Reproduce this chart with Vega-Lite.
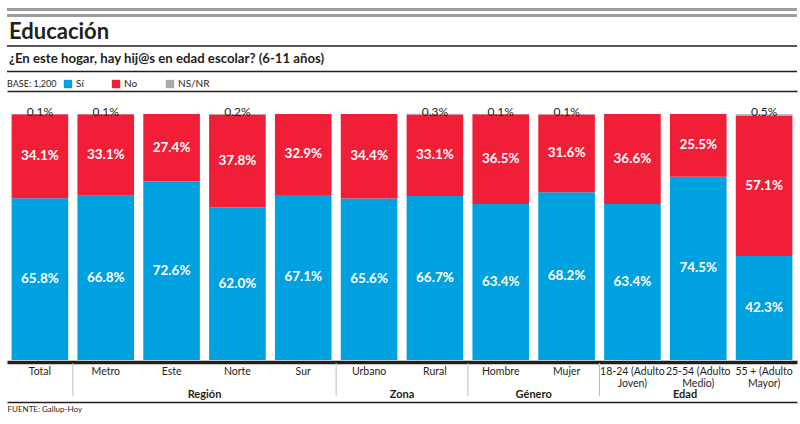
{
  "$schema": "https://vega.github.io/schema/vega-lite/v6.json",
  "padding": {"top": 0, "left": 5, "right": 5, "bottom": 0},
  "background": "white",
  "config": {"font": "Lato", "view": {"stroke": null}},
  "spacing": 0,
  "datasets": {
    "survey": [
      {"cat": "Total", "resp": "Sí", "v": 0.658}, {"cat": "Total", "resp": "No", "v": 0.341}, {"cat": "Total", "resp": "NS/NR", "v": 0.001},
      {"cat": "Metro", "resp": "Sí", "v": 0.668}, {"cat": "Metro", "resp": "No", "v": 0.331}, {"cat": "Metro", "resp": "NS/NR", "v": 0.001},
      {"cat": "Este", "resp": "Sí", "v": 0.726}, {"cat": "Este", "resp": "No", "v": 0.274}, {"cat": "Este", "resp": "NS/NR", "v": 0},
      {"cat": "Norte", "resp": "Sí", "v": 0.620}, {"cat": "Norte", "resp": "No", "v": 0.378}, {"cat": "Norte", "resp": "NS/NR", "v": 0.002},
      {"cat": "Sur", "resp": "Sí", "v": 0.671}, {"cat": "Sur", "resp": "No", "v": 0.329}, {"cat": "Sur", "resp": "NS/NR", "v": 0},
      {"cat": "Urbano", "resp": "Sí", "v": 0.656}, {"cat": "Urbano", "resp": "No", "v": 0.344}, {"cat": "Urbano", "resp": "NS/NR", "v": 0},
      {"cat": "Rural", "resp": "Sí", "v": 0.667}, {"cat": "Rural", "resp": "No", "v": 0.331}, {"cat": "Rural", "resp": "NS/NR", "v": 0.003},
      {"cat": "Hombre", "resp": "Sí", "v": 0.634}, {"cat": "Hombre", "resp": "No", "v": 0.365}, {"cat": "Hombre", "resp": "NS/NR", "v": 0.001},
      {"cat": "Mujer", "resp": "Sí", "v": 0.682}, {"cat": "Mujer", "resp": "No", "v": 0.316}, {"cat": "Mujer", "resp": "NS/NR", "v": 0.001},
      {"cat": "18-24 (Adulto\nJoven)", "resp": "Sí", "v": 0.634}, {"cat": "18-24 (Adulto\nJoven)", "resp": "No", "v": 0.366}, {"cat": "18-24 (Adulto\nJoven)", "resp": "NS/NR", "v": 0},
      {"cat": "25-54 (Adulto\nMedio)", "resp": "Sí", "v": 0.745}, {"cat": "25-54 (Adulto\nMedio)", "resp": "No", "v": 0.255}, {"cat": "25-54 (Adulto\nMedio)", "resp": "NS/NR", "v": 0},
      {"cat": "55 + (Adulto\nMayor)", "resp": "Sí", "v": 0.423}, {"cat": "55 + (Adulto\nMayor)", "resp": "No", "v": 0.571}, {"cat": "55 + (Adulto\nMayor)", "resp": "NS/NR", "v": 0.005}
    ],
    "cats": [
      {"cat": "Total"}, {"cat": "Metro"}, {"cat": "Este"}, {"cat": "Norte"}, {"cat": "Sur"}, {"cat": "Urbano"}, {"cat": "Rural"}, {"cat": "Hombre"}, {"cat": "Mujer"},
      {"cat": "18-24 (Adulto\nJoven)"}, {"cat": "25-54 (Adulto\nMedio)"}, {"cat": "55 + (Adulto\nMayor)"}
    ],
    "groups": [
      {"group": "Región", "first": "Metro", "mid": "Norte"},
      {"group": "Zona", "first": "Urbano", "mid": "Rural"},
      {"group": "Género", "first": "Hombre", "mid": "Mujer"},
      {"group": "Edad", "first": "18-24 (Adulto\nJoven)", "mid": "25-54 (Adulto\nMedio)"}
    ]
  },
  "resolve": {
    "scale": {"x": "independent", "y": "independent", "color": "independent"},
    "legend": {"color": "independent"}
  },
  "vconcat": [
    {
      "width": 790,
      "height": 79,
      "data": {"values": [{}]},
      "layer": [
        {"mark": {"type": "rule", "color": "#9D9D9F", "strokeWidth": 3},
         "encoding": {"y": {"datum": 9.5, "type": "quantitative", "scale": {"domain": [0, 79], "reverse": true, "nice": false, "zero": false}, "axis": null}}},
        {"mark": {"type": "rule", "color": "#9D9D9F", "strokeWidth": 3},
         "encoding": {"y": {"datum": 15.5, "type": "quantitative"}}},
        {"mark": {"type": "rule", "color": "#231F20", "strokeWidth": 1.5},
         "encoding": {"y": {"datum": 46, "type": "quantitative"}}},
        {"mark": {"type": "rule", "color": "#231F20", "strokeWidth": 1.5},
         "encoding": {"y": {"datum": 71.5, "type": "quantitative"}}},
        {"mark": {"type": "text", "align": "left", "baseline": "alphabetic", "fontSize": 22, "fontWeight": "bold", "color": "#231F20", "text": "Educación"},
         "encoding": {"x": {"datum": 2, "type": "quantitative", "scale": {"domain": [0, 790], "nice": false}, "axis": null}, "y": {"datum": 39, "type": "quantitative"}}},
        {"mark": {"type": "text", "align": "left", "baseline": "alphabetic", "fontSize": 13.2, "fontWeight": "bold", "color": "#231F20", "text": "¿En este hogar, hay hij@s en edad escolar? (6-11 años)"},
         "encoding": {"x": {"datum": 2, "type": "quantitative"}, "y": {"datum": 63, "type": "quantitative"}}}
      ]
    },
    {
      "width": 790,
      "height": 246,
      "data": {"name": "survey"},
      "resolve": {"axis": {"x": "independent"}},
      "layer": [
        {
          "mark": {"type": "bar"},
          "encoding": {
            "x": {"field": "cat", "type": "nominal", "sort": null,
                  "scale": {"paddingInner": 0.14, "paddingOuter": 0.07},
                  "axis": {"orient": "bottom", "labels": false, "ticks": false, "title": null, "domainColor": "#231F20", "domainWidth": 3.5, "offset": 2}},
            "y": {"field": "v", "type": "quantitative", "stack": "zero", "scale": {"domain": [0, 1]}, "axis": null},
            "order": {"field": "resp", "sort": "descending"},
            "color": {"field": "resp", "type": "nominal",
                      "scale": {"domain": ["Sí", "No", "NS/NR"], "range": ["#00A1E0", "#F11E37", "#A7A9AC"]},
                      "legend": {"orient": "top", "direction": "horizontal", "title": "BASE: 1,200", "titleOrient": "left",
                                 "titleFontSize": 9, "titleFontWeight": "normal", "titleColor": "#231F20", "titlePadding": 6,
                                 "labelFontSize": 10, "labelColor": "#231F20", "symbolType": "square", "symbolSize": 70,
                                 "symbolStrokeWidth": 0, "columnPadding": 27, "labelOffset": 3, "offset": 2, "padding": 0}}
          }
        },
        {
          "transform": [{"filter": "datum.resp != 'NS/NR'"}],
          "mark": {"type": "text", "fontWeight": "bold", "fontSize": 13.5, "color": "white", "baseline": "middle"},
          "encoding": {
            "x": {"field": "cat", "type": "nominal", "sort": null,
                  "axis": {"orient": "top", "labels": false, "ticks": false, "title": null, "domainColor": "#231F20", "domainWidth": 1.5, "offset": 23}},
            "y": {"field": "v", "type": "quantitative", "stack": "zero", "bandPosition": 0.5},
            "detail": {"field": "resp"},
            "order": {"field": "resp", "sort": "descending"},
            "text": {"field": "v", "type": "quantitative", "format": ".1%"}
          }
        },
        {
          "transform": [{"filter": "datum.resp == 'NS/NR' && datum.v > 0"}],
          "mark": {"type": "text", "fontSize": 12, "color": "#231F20", "baseline": "middle", "dy": -2},
          "encoding": {
            "x": {"field": "cat", "type": "nominal", "sort": null, "axis": null},
            "y": {"datum": 1, "type": "quantitative"},
            "text": {"field": "v", "type": "quantitative", "format": ".1%"}
          }
        }
      ]
    },
    {
      "width": 790,
      "height": 40,
      "layer": [
        {
          "data": {"name": "cats"},
          "mark": {"type": "text", "baseline": "top", "fontSize": 10.5, "color": "#231F20", "lineBreak": "\n", "lineHeight": 11.5},
          "encoding": {
            "x": {"field": "cat", "type": "nominal", "sort": null,
                  "scale": {"paddingInner": 0, "paddingOuter": 0,
                            "domain": ["Total", "Metro", "Este", "Norte", "Sur", "Urbano", "Rural", "Hombre", "Mujer", "18-24 (Adulto\nJoven)", "25-54 (Adulto\nMedio)", "55 + (Adulto\nMayor)"]},
                  "axis": {"orient": "bottom", "labels": false, "ticks": false, "domainColor": "#231F20", "domainWidth": 1.5,
                           "title": "FUENTE: Gallup-Hoy", "titleAnchor": "start", "titleAlign": "left", "titleFontSize": 8,
                           "titleFontWeight": "normal", "titleColor": "#231F20", "titlePadding": 3}},
            "y": {"datum": 5, "type": "quantitative", "scale": {"domain": [0, 40], "reverse": true, "nice": false}, "axis": null},
            "text": {"field": "cat"}
          }
        },
        {
          "data": {"name": "groups"},
          "mark": {"type": "rule", "color": "#BCBEC0", "strokeWidth": 1},
          "encoding": {
            "x": {"field": "first", "type": "nominal", "bandPosition": 0},
            "y": {"datum": 1, "type": "quantitative"},
            "y2": {"datum": 34}
          }
        },
        {
          "data": {"name": "groups"},
          "transform": [{"filter": "datum.group != 'Edad'"}],
          "mark": {"type": "text", "baseline": "middle", "fontSize": 11, "fontWeight": "bold", "color": "#231F20"},
          "encoding": {
            "x": {"field": "mid", "type": "nominal", "bandPosition": 0},
            "y": {"datum": 33, "type": "quantitative"},
            "text": {"field": "group"}
          }
        },
        {
          "data": {"name": "groups"},
          "transform": [{"filter": "datum.group == 'Edad'"}],
          "mark": {"type": "text", "baseline": "middle", "fontSize": 11, "fontWeight": "bold", "color": "#231F20"},
          "encoding": {
            "x": {"field": "mid", "type": "nominal", "bandPosition": 0.3},
            "y": {"datum": 33, "type": "quantitative"},
            "text": {"field": "group"}
          }
        }
      ]
    }
  ]
}
